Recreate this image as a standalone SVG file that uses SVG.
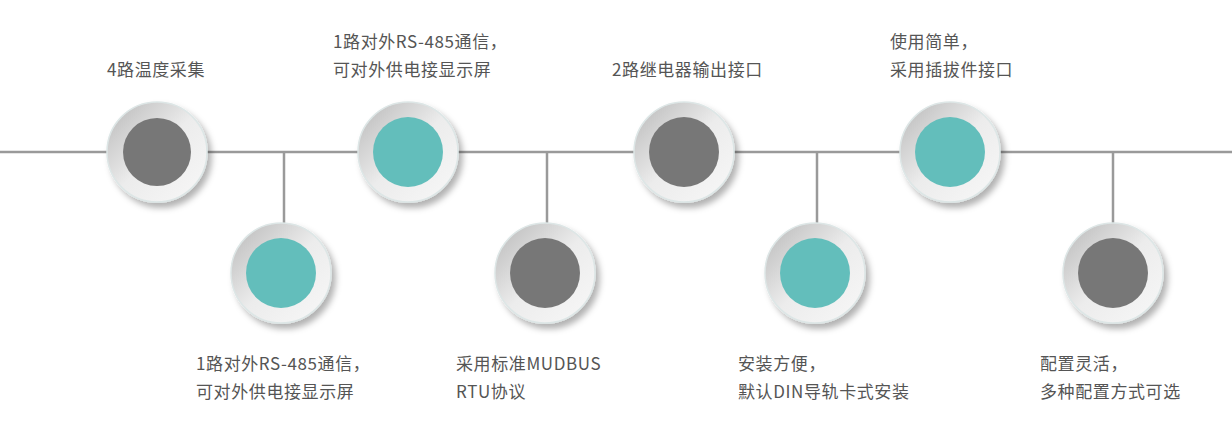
<svg xmlns="http://www.w3.org/2000/svg" width="1232" height="432" viewBox="0 0 1232 432">
<style>
text{font-family:"Noto Sans CJK SC","Noto Sans",sans-serif;font-size:17px;letter-spacing:0.6px;fill:#555}
.ln{stroke:#9a9a9a;stroke-width:2.5;fill:none}
.g{fill:#777}.t{fill:#63bebb}
</style>
<defs>
<linearGradient id="ring" x1="0" y1="0" x2="1" y2="1"><stop offset="0" stop-color="#b8b8b8"/><stop offset="0.5" stop-color="#ececec"/><stop offset="1" stop-color="#f8f8f8"/></linearGradient>
<filter id="sh" x="-30%" y="-30%" width="170%" height="170%"><feDropShadow dx="4" dy="5" stdDeviation="3" flood-color="#000" flood-opacity="0.3"/></filter>
<g id="ringshape"><circle r="50" fill="url(#ring)" stroke="#dde6e6" stroke-width="1.5" filter="url(#sh)"/></g>
</defs>
<g id="connectors">
<line class="ln" x1="0" y1="152" x2="1232" y2="152"/>
<line class="ln" x1="284" y1="152" x2="284" y2="223"/>
<line class="ln" x1="547" y1="152" x2="547" y2="223"/>
<line class="ln" x1="817" y1="152" x2="817" y2="223"/>
<line class="ln" x1="1113" y1="152" x2="1113" y2="223"/>
</g>
<g id="n1"><use href="#ringshape" x="157" y="152"/><circle class="g" cx="157" cy="152" r="34"/><text x="107" y="76">4路温度采集</text></g>
<g id="n2"><use href="#ringshape" x="281" y="273"/><circle class="t" cx="281" cy="273" r="35"/><text x="196" y="370">1路对外RS-485通信，</text><text x="196" y="398">可对外供电接显示屏</text></g>
<g id="n3"><use href="#ringshape" x="408" y="152"/><circle class="t" cx="408" cy="152" r="35"/><text x="333" y="48">1路对外RS-485通信，</text><text x="333" y="76">可对外供电接显示屏</text></g>
<g id="n4"><use href="#ringshape" x="545" y="273"/><circle class="g" cx="545" cy="273" r="35"/><text x="456" y="370">采用标准MUDBUS</text><text x="456" y="398">RTU协议</text></g>
<g id="n5"><use href="#ringshape" x="684" y="152"/><circle class="g" cx="684" cy="152" r="35"/><text x="612" y="76">2路继电器输出接口</text></g>
<g id="n6"><use href="#ringshape" x="815" y="273"/><circle class="t" cx="815" cy="273" r="35"/><text x="738" y="370">安装方便，</text><text x="738" y="398">默认DIN导轨卡式安装</text></g>
<g id="n7"><use href="#ringshape" x="950" y="152"/><circle class="t" cx="950" cy="152" r="35"/><text x="890" y="48">使用简单，</text><text x="890" y="76">采用插拔件接口</text></g>
<g id="n8"><use href="#ringshape" x="1113" y="273"/><circle class="g" cx="1113" cy="273" r="35"/><text x="1040" y="370">配置灵活，</text><text x="1040" y="398">多种配置方式可选</text></g>
</svg>
